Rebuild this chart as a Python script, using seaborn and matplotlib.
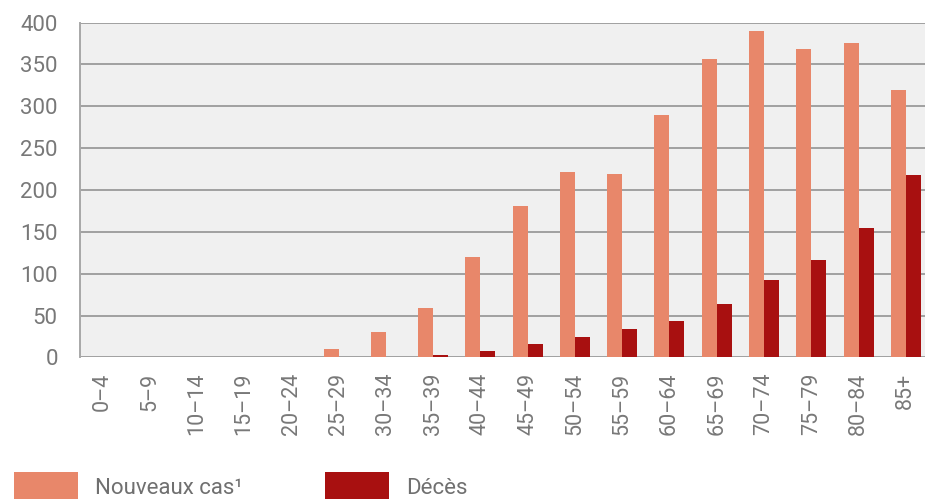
import pandas as pd
import seaborn as sns
import matplotlib.pyplot as plt
from matplotlib.patches import Patch

# tranches d'age et valeurs
ages = ["0\u20134", "5\u20139", "10\u201314", "15\u201319", "20\u201324", "25\u201329",
        "30\u201334", "35\u201339", "40\u201344", "45\u201349", "50\u201354", "55\u201359",
        "60\u201364", "65\u201369", "70\u201374", "75\u201379", "80\u201384", "85+"]
nouveaux_cas = [0, 0, 0, 0, 1, 10, 30, 59, 120, 181, 221, 219, 290, 357, 390, 368, 376, 320]
deces = [0, 0, 0, 0, 0, 0, 0, 3, 8, 16, 25, 34, 43, 64, 93, 116, 155, 218]

series_names = ["Nouveaux cas\u00b9", "D\u00e9c\u00e8s"]
colors = ["#E8876A", "#A81010"]


def main():
    df = pd.DataFrame({
        "age": ages * 2,
        "valeur": nouveaux_cas + deces,
        "serie": [series_names[0]] * len(ages) + [series_names[1]] * len(ages),
    })

    sns.set_style("white")
    plt.rcParams["font.family"] = ["Roboto", "DejaVu Sans"]

    fig = plt.figure(figsize=(9.25, 4.99), dpi=100)
    ax = fig.add_axes([0.0865, 0.2836, 0.9168, 0.6713])
    ax.set_facecolor("#F0F0F0")

    sns.barplot(data=df, x="age", y="valeur", hue="serie", palette=colors,
                width=0.635, ax=ax, legend=False, saturation=1, linewidth=0)

    ax.set_ylim(0, 400)
    ax.set_xlim(-0.47, len(ages) - 0.53)
    ax.set_yticks(range(0, 401, 50))
    ax.yaxis.grid(True, color="#A0A0A0", linewidth=1.4)
    ax.set_axisbelow(True)
    for s in ["top", "right", "bottom"]:
        ax.spines[s].set_visible(False)
    ax.spines["left"].set_color("#A8A8A8")
    ax.spines["left"].set_linewidth(1.4)
    ax.set_xlabel("")
    ax.set_ylabel("")
    ax.tick_params(axis="x", rotation=90, labelsize=15.5, labelcolor="#787878", length=0, pad=11)
    ax.tick_params(axis="y", labelsize=16, labelcolor="#787878", color="#A0A0A0",
                   length=5, width=1.4, pad=11)

    handles = [Patch(facecolor=c, edgecolor="none") for c in colors]
    fig.legend(handles, series_names, loc="upper left", bbox_to_anchor=(0.015, 0.054),
               ncol=2, frameon=False, fontsize=16, handlelength=2.9, handleheight=1.6,
               handletextpad=0.75, columnspacing=3.7, borderpad=0, borderaxespad=0,
               labelcolor="#707070")

    fig.savefig("out.png", dpi=100)


main()
